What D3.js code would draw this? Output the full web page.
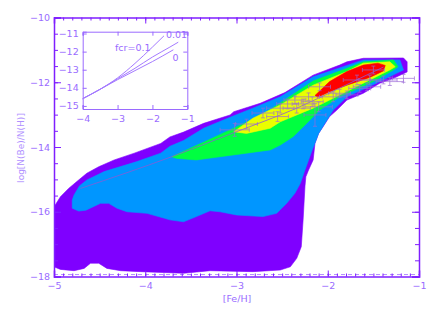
<!DOCTYPE html>
<html><head><meta charset="utf-8">
<script src="https://cdn.jsdelivr.net/npm/d3@7"></script>
<style>body{margin:0;background:#fff}svg{display:block}</style>
</head><body>
<svg id="c" width="436" height="312"></svg>
<script>
// ---------------- data ----------------
// contour levels (outer -> inner), vertices as [Fe/H, log N(Be)/N(H)]
const purpleLevel = [[-5.00,-15.85],[-4.93,-15.54],[-4.84,-15.28],[-4.73,-15.02],[-4.64,-14.81],[-4.51,-14.61],[-4.34,-14.40],[-4.12,-14.19],[-3.83,-13.89],[-3.73,-13.69],[-3.58,-13.54],[-3.36,-13.27],[-3.07,-13.01],[-3.03,-12.91],[-2.74,-12.65],[-2.47,-12.32],[-2.16,-11.78],[-1.87,-11.47],[-1.79,-11.37],[-1.61,-11.26],[-1.17,-11.25],[-1.13,-11.37],[-1.13,-11.68],[-1.28,-11.88],[-1.43,-12.03],[-1.61,-12.34],[-1.79,-12.55],[-1.90,-12.86],[-1.98,-13.06],[-2.05,-13.37],[-2.10,-13.58],[-2.14,-13.89],[-2.16,-14.40],[-2.21,-14.71],[-2.24,-14.92],[-2.25,-15.23],[-2.27,-16.25],[-2.29,-17.08],[-2.34,-17.44],[-2.41,-17.70],[-2.52,-17.80],[-2.82,-17.85],[-3.29,-17.82],[-3.58,-17.90],[-4.05,-17.85],[-4.27,-17.82],[-4.42,-17.75],[-4.51,-17.59],[-4.60,-17.59],[-4.67,-17.75],[-4.78,-17.82],[-4.93,-17.78],[-5.00,-17.70]];
const blueLevel = [[-4.80,-15.64],[-4.78,-15.48],[-4.72,-15.20],[-4.64,-15.02],[-4.45,-14.76],[-4.09,-14.45],[-3.83,-14.19],[-3.73,-13.98],[-3.58,-13.80],[-3.36,-13.42],[-3.05,-13.06],[-2.82,-12.80],[-2.52,-12.45],[-2.16,-11.83],[-1.83,-11.52],[-1.61,-11.31],[-1.21,-11.31],[-1.17,-11.62],[-1.23,-11.70],[-1.43,-11.98],[-1.79,-12.45],[-1.94,-12.86],[-2.01,-13.17],[-2.10,-13.58],[-2.17,-14.09],[-2.25,-14.71],[-2.30,-15.12],[-2.36,-15.43],[-2.45,-15.74],[-2.56,-16.05],[-2.71,-16.15],[-3.00,-16.10],[-3.18,-16.00],[-3.29,-15.97],[-3.44,-16.15],[-3.58,-16.31],[-3.73,-16.25],[-3.79,-16.20],[-3.98,-16.05],[-4.20,-16.00],[-4.31,-15.89],[-4.40,-15.74],[-4.49,-15.74],[-4.65,-15.95],[-4.73,-15.98],[-4.80,-15.89]];
const greenLevel = [[-3.71,-14.30],[-3.36,-13.85],[-3.00,-13.38],[-2.74,-13.04],[-2.52,-12.64],[-2.16,-11.96],[-1.79,-11.57],[-1.61,-11.37],[-1.28,-11.31],[-1.23,-11.52],[-1.28,-11.62],[-1.50,-11.98],[-1.87,-12.45],[-2.09,-12.86],[-2.23,-13.27],[-2.38,-13.68],[-2.52,-13.94],[-2.63,-14.09],[-2.89,-14.19],[-3.18,-14.30],[-3.44,-14.40],[-3.66,-14.35]];
const yellowLevel = [[-3.03,-13.53],[-2.82,-13.11],[-2.52,-12.70],[-2.16,-12.09],[-1.79,-11.67],[-1.61,-11.41],[-1.32,-11.37],[-1.26,-11.52],[-1.32,-11.62],[-1.61,-12.03],[-1.98,-12.55],[-2.16,-12.80],[-2.34,-13.01],[-2.52,-13.22],[-2.63,-13.42],[-2.89,-13.58]];
const redLevel = [[-2.14,-12.41],[-1.98,-11.98],[-1.79,-11.67],[-1.61,-11.47],[-1.45,-11.41],[-1.37,-11.48],[-1.39,-11.65],[-1.54,-11.85],[-1.79,-12.09],[-1.98,-12.29],[-2.11,-12.46]];
const levelColors = ["#7f00ff","#0096ff","#00ff40","#eaff00","#ff0000"];

// mean model track
const meanFeH = [-4.71,-3.71,-3.04,-2.34,-1.87,-1.39];
const meanBe  = [-15.28,-14.30,-13.57,-12.80,-12.18,-11.53];

// observed stars with error bars
const obsFeH = [-3.02,-2.89,-2.55,-2.52,-2.36,-2.34,-2.27,-2.21,-2.17,-2.14,-2.10,-2.09,-1.94,-1.87,-1.79,-1.68,-1.65,-1.57,-1.54,-1.50,-1.39,-1.32,-1.17,-2.44,-2.71];
const obsBe  = [-13.47,-13.29,-13.06,-12.80,-12.55,-12.80,-12.67,-12.45,-12.60,-13.01,-12.76,-12.14,-12.45,-12.34,-12.39,-11.93,-12.19,-12.14,-11.93,-11.62,-11.93,-11.98,-11.88,-12.67,-12.95];
const obsFeHErr = [0.16,0.12,0.12,0.15,0.12,0.15,0.12,0.15,0.12,0.12,0.15,0.12,0.15,0.12,0.12,0.15,0.12,0.15,0.12,0.12,0.15,0.15,0.12,0.12,0.12];
const obsBeErr  = [0.20,0.15,0.15,0.15,0.12,0.15,0.15,0.12,0.15,0.35,0.15,0.12,0.15,0.12,0.12,0.15,0.12,0.12,0.15,0.12,0.12,0.12,0.12,0.15,0.15];

// inset curves
const insetFeH01 = [-4,-3.5,-3,-2.5,-2,-1.67];
const insetBe01  = [-14.6,-14.08,-13.45,-12.65,-11.75,-11.13];
const insetFeH001 = [-4,-3.5,-3,-2.5,-2,-1.5,-1.26];
const insetBe001  = [-14.6,-14.08,-13.5,-12.92,-12.3,-11.75,-11.48];
const insetFeH0 = [-4,-3.5,-3,-2.5,-2,-1.4];
const insetBe0  = [-14.6,-14.08,-13.55,-13.05,-12.55,-11.9];

// ticks
const xMajor = [-5,-4,-3,-2,-1];
const yMajor = [-18,-16,-14,-12,-10];
const insetXTicks = [-4,-3,-2,-1];
const insetYTicks = [-15,-14,-13,-12,-11];

// ---------------- drawing ----------------
const svg = d3.select("#c");
const axisColor = "#7f1fff", textColor = "#9a6cff", font = "DejaVu Sans, sans-serif";
const L=54, R=419, T=17.5, B=276.5;
const x = d3.scaleLinear([-5,-1],[L,R]);
const y = d3.scaleLinear([-18,-10],[B,T]);

svg.append("clipPath").attr("id","clip").append("rect").attr("x",L).attr("y",T).attr("width",R-L).attr("height",B-T);
const plot = svg.append("g").attr("clip-path","url(#clip)");

const area = d3.line().x(d=>x(d[0])).y(d=>y(d[1])).curve(d3.curveLinearClosed);
[purpleLevel,blueLevel,greenLevel,yellowLevel,redLevel].forEach((lv,i)=>{
  plot.append("path").attr("d",area(lv)).attr("fill",levelColors[i]).attr("stroke",levelColors[i]).attr("stroke-width",0.6);
});

// mean track
plot.append("path").attr("d", d3.line().x(d=>x(d[0])).y(d=>y(d[1])).curve(d3.curveMonotoneX)(meanFeH.map((v,i)=>[v,meanBe[i]])))
  .attr("fill","none").attr("stroke","#8a5ad6").attr("stroke-width",0.8);

// error bars
const eb = plot.append("g").attr("stroke","#9c6ad8").attr("stroke-width",0.8).attr("opacity",0.85);
obsFeH.forEach((fx,i)=>{
  const cx=x(fx), cy=y(obsBe[i]);
  const x0=x(fx-obsFeHErr[i]), x1=x(fx+obsFeHErr[i]);
  const y0=y(obsBe[i]-obsBeErr[i]), y1=y(obsBe[i]+obsBeErr[i]);
  eb.append("line").attr("x1",x0).attr("x2",x1).attr("y1",cy).attr("y2",cy);
  eb.append("line").attr("x1",x0).attr("x2",x0).attr("y1",cy-2).attr("y2",cy+2);
  eb.append("line").attr("x1",x1).attr("x2",x1).attr("y1",cy-2).attr("y2",cy+2);
  eb.append("line").attr("x1",cx).attr("x2",cx).attr("y1",y0).attr("y2",y1);
  eb.append("line").attr("x1",cx-2).attr("x2",cx+2).attr("y1",y0).attr("y2",y0);
  eb.append("line").attr("x1",cx-2).attr("x2",cx+2).attr("y1",y1).attr("y2",y1);
});

// dashed line near bottom
svg.append("line").attr("x1",L).attr("x2",R).attr("y1",y(-17.94)).attr("y2",y(-17.94))
  .attr("stroke","#b48cff").attr("stroke-width",1).attr("stroke-dasharray","4,3");

function style(g, showDomain){
  g.select(".domain").attr("stroke", showDomain?axisColor:"none").attr("stroke-width",1.5);
  g.selectAll(".tick line").attr("stroke",axisColor).attr("stroke-width",1);
  g.selectAll("text").attr("fill",textColor).style("font-size","9.5px").style("font-family",font);
}
const fmt = d3.format("d");
const xMinor = d3.range(-5,-1.0001,0.1).map(v=>+v.toFixed(2));
const yMinor = d3.range(-18,-9.999,0.5);
// bottom
svg.append("g").attr("transform",`translate(0,${B})`).call(d3.axisBottom(x).tickValues(xMinor).tickSize(-3).tickFormat("")).call(g=>style(g,false));
svg.append("g").attr("transform",`translate(0,${B})`).call(d3.axisBottom(x).tickValues(xMajor).tickSize(-6).tickPadding(6).tickFormat(fmt)).call(g=>style(g,true));
// top
svg.append("g").attr("transform",`translate(0,${T})`).call(d3.axisTop(x).tickValues(xMinor).tickSize(-3).tickFormat("")).call(g=>style(g,false));
svg.append("g").attr("transform",`translate(0,${T})`).call(d3.axisTop(x).tickValues(xMajor).tickSize(-6).tickFormat("")).call(g=>style(g,true));
// left
svg.append("g").attr("transform",`translate(${L},0)`).call(d3.axisLeft(y).tickValues(yMinor).tickSize(-4).tickFormat("")).call(g=>style(g,false));
svg.append("g").attr("transform",`translate(${L},0)`).call(d3.axisLeft(y).tickValues(yMajor).tickSize(-7).tickPadding(4).tickFormat(fmt)).call(g=>style(g,true));
// right
svg.append("g").attr("transform",`translate(${R},0)`).call(d3.axisRight(y).tickValues(yMinor).tickSize(-4).tickFormat("")).call(g=>style(g,false));
svg.append("g").attr("transform",`translate(${R},0)`).call(d3.axisRight(y).tickValues(yMajor).tickSize(-7).tickFormat("")).call(g=>style(g,true));

svg.append("text").attr("x",237).attr("y",302).attr("text-anchor","middle").attr("fill",textColor)
  .style("font-size","9.5px").style("font-family",font).text("[Fe/H]");
svg.append("text").attr("transform","translate(24,148) rotate(-90)").attr("text-anchor","middle").attr("fill","#b090ff")
  .style("font-size","9px").style("font-family",font).text("log[N(Be)/N(H)]");

// ---------------- inset ----------------
const iL=82.7, iR=187.3, iT=31.7, iB=109;
const ix = d3.scaleLinear([-4,-1],[iL,iR]);
const iy = d3.scaleLinear([-15.17,-10.9],[iB,iT]);
const ic = "#9a6aff";
svg.append("rect").attr("x",iL).attr("y",iT).attr("width",iR-iL).attr("height",iB-iT).attr("fill","#fff");
function istyle(g){
  g.select(".domain").attr("stroke",ic).attr("stroke-width",1);
  g.selectAll(".tick line").attr("stroke",ic);
  g.selectAll("text").attr("fill",textColor).style("font-size","9.5px").style("font-family",font);
}
svg.append("g").attr("transform",`translate(0,${iB})`).call(d3.axisBottom(ix).tickValues(insetXTicks).tickSize(-4).tickPadding(6).tickFormat(fmt)).call(istyle);
svg.append("g").attr("transform",`translate(0,${iT})`).call(d3.axisTop(ix).tickValues(insetXTicks).tickSize(-4).tickFormat("")).call(istyle);
svg.append("g").attr("transform",`translate(${iL},0)`).call(d3.axisLeft(iy).tickValues(insetYTicks).tickSize(-4).tickPadding(4).tickFormat(fmt)).call(istyle);
svg.append("g").attr("transform",`translate(${iR},0)`).call(d3.axisRight(iy).tickValues(insetYTicks).tickSize(-4).tickFormat("")).call(istyle);

const iline = d3.line().x(d=>ix(d[0])).y(d=>iy(d[1])).curve(d3.curveMonotoneX);
[[insetFeH01,insetBe01],[insetFeH001,insetBe001],[insetFeH0,insetBe0]].forEach(([xs,ys])=>{
  svg.append("path").attr("d",iline(xs.map((v,i)=>[v,ys[i]]))).attr("fill","none").attr("stroke","#a47aff").attr("stroke-width",1);
});
const lab = (t,xx,yy)=>svg.append("text").attr("x",xx).attr("y",yy).attr("fill",textColor).style("font-size","9.5px").style("font-family",font).text(t);
lab("fcr=0.1",115,51);
lab("0.01",166,38);
lab("0",172.5,61);
</script>
</body></html>
